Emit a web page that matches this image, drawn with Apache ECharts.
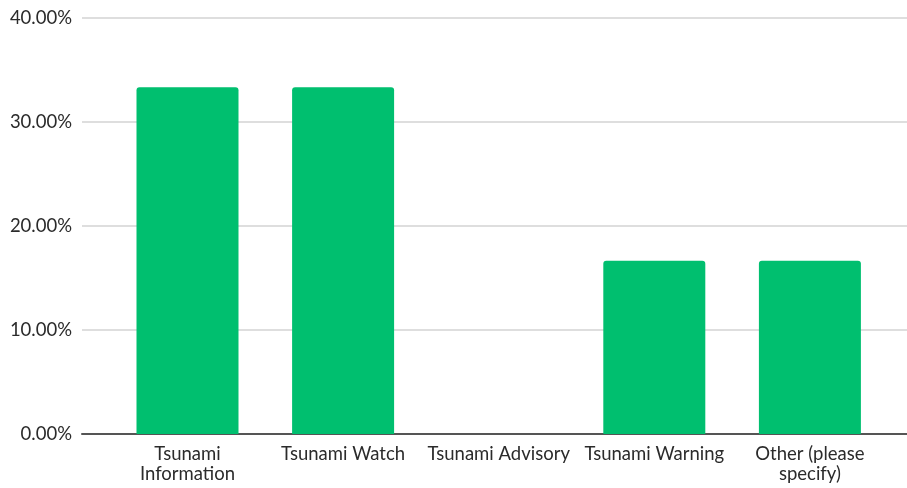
<!DOCTYPE html>
<html>
<head>
<meta charset="utf-8">
<script src="https://cdn.jsdelivr.net/npm/echarts@6/dist/echarts.min.js"></script>
<style>
  html, body { margin: 0; padding: 0; background: #fff; }
  #main { width: 907px; height: 488px; }
</style>
</head>
<body>
<div id="main"></div>
<script>
var categories = ['Tsunami\nInformation', 'Tsunami Watch', 'Tsunami Advisory', 'Tsunami Warning', 'Other (please\nspecify)'];
var percents = [33.33, 33.33, 0, 16.67, 16.67];
var yTicks = [0, 10, 20, 30, 40];

// bars sit on a value x axis so the grid lines can run past the outer categories
var barData = [];
for (var i = 0; i < percents.length; i++) {
    barData.push([i, percents[i]]);
}

var chart = echarts.init(document.getElementById('main'));
chart.setOption({
    animation: false,
    textStyle: { fontFamily: 'Lato' },
    grid: { left: 82, right: 0, top: 18, bottom: 54, containLabel: false },
    xAxis: {
        type: 'value',
        min: -0.678,
        max: 4.624,
        splitLine: { show: false },
        axisLine: { show: true, onZero: false, lineStyle: { color: '#555', width: 2 } },
        axisTick: { show: false },
        axisLabel: {
            customValues: [0, 1, 2, 3, 4],
            formatter: function (v) { return categories[Math.round(v)]; },
            color: '#2b2b2b',
            fontSize: 18.5,
            lineHeight: 20,
            margin: 10,
            align: 'center'
        }
    },
    yAxis: {
        type: 'value',
        min: yTicks[0],
        max: yTicks[yTicks.length - 1],
        interval: 10,
        axisLine: { show: false },
        axisTick: { show: false },
        splitLine: { lineStyle: { color: '#d3d3d3', width: 1.5 } },
        axisLabel: {
            formatter: function (v) { return v.toFixed(2) + '%'; },
            color: '#2b2b2b',
            fontSize: 18.5,
            margin: 10
        }
    },
    series: [{
        type: 'bar',
        data: barData,
        barWidth: 102,
        itemStyle: { color: '#00bf6f', borderRadius: [3, 3, 0, 0] }
    }]
});
</script>
</body>
</html>
